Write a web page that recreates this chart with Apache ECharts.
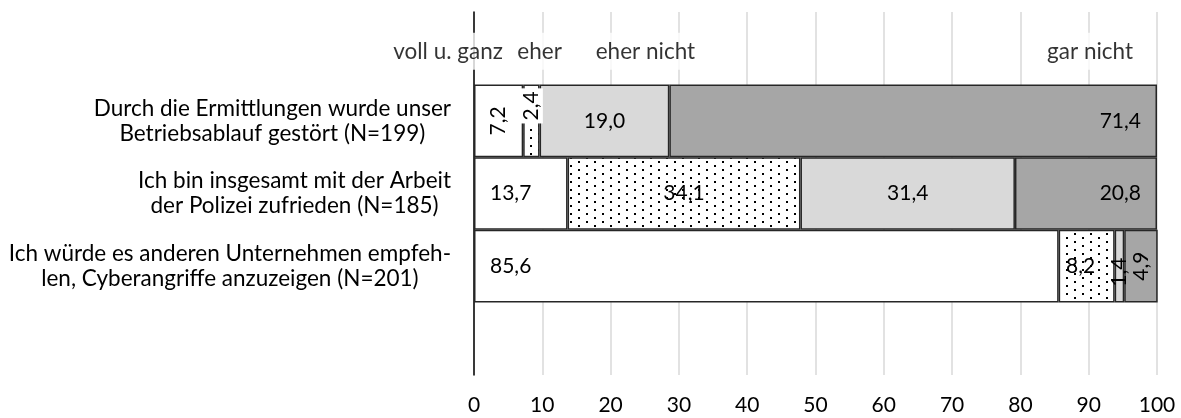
<!DOCTYPE html>
<html>
<head>
<meta charset="utf-8">
<script src="https://cdn.jsdelivr.net/npm/echarts@6/dist/echarts.min.js"></script>
<style>
  html, body { margin: 0; padding: 0; background: #fff; }
  #chart { width: 1181px; height: 418px; }
</style>
</head>
<body>
<div id="chart"></div>
<script>
// Statements (top to bottom)
const categories = [
  'Durch die Ermittlungen wurde unser\nBetriebsablauf gestört (N=199)',
  'Ich bin insgesamt mit der Arbeit\nder Polizei zufrieden (N=185)',
  'Ich würde es anderen Unternehmen empfeh-\nlen, Cyberangriffe anzuzeigen (N=201)'
];
// Answer options
const seriesNames = ['voll u. ganz', 'eher', 'eher nicht', 'gar nicht'];
// Shares in percent, one value per statement
const vollUGanz = [7.2, 13.7, 85.6];
const eher      = [2.4, 34.1, 8.2];
const eherNicht = [19.0, 31.4, 1.4];
const garNicht  = [71.4, 20.8, 4.9];
// Tick labels of the percent axis
const xTicks = [0, 10, 20, 30, 40, 50, 60, 70, 80, 90, 100];

const FONT = 'Lato';
const FS_TEXT = 22.5;   // statements and answer labels
const FS_NUM = 21;      // numbers
const TEXT = '#000';

// dotted fill
function dotPattern() {
  const c = document.createElement('canvas');
  c.width = 16; c.height = 8;
  const g = c.getContext('2d');
  g.fillStyle = '#fff';
  g.fillRect(0, 0, 16, 8);
  g.fillStyle = '#000';
  g.fillRect(2, 1, 2, 2);
  g.fillRect(10, 5, 2, 2);
  return c;
}

const fills = ['#ffffff', { image: dotPattern(), repeat: 'repeat' }, '#d9d9d9', '#a6a6a6'];
const values = [vollUGanz, eher, eherNicht, garNicht];

const fmt = v => v.toFixed(1).replace('.', ',');

// label placement for one segment
function labelFor(s, r, v) {
  const base = { show: true, formatter: fmt(v), color: TEXT, fontFamily: FONT, fontSize: FS_NUM };
  if (v < 8) {
    Object.assign(base, { position: 'inside', rotate: 90, align: 'center', verticalAlign: 'middle' });
    if (s === 1 && r === 0) {
      Object.assign(base, { backgroundColor: '#fff', padding: [2, 3, 0, 3], offset: [15, 0] });
    }
    if (s === 2 && r === 2) base.offset = [-6, 0];
    return base;
  }
  if (s === 0) return Object.assign(base, { position: 'insideLeft', distance: 16 });
  if (s === 3) return Object.assign(base, { position: 'insideRight', distance: 16 });
  if (s === 1 && r === 2) base.offset = [-6, 0];
  return Object.assign(base, { position: 'inside' });
}

// y categories: a header row for the answer labels, the statements, a spacer row
const yCats = ['head'].concat(categories, ['foot']);

const barSeries = values.map((arr, s) => ({
  name: seriesNames[s],
  type: 'bar',
  stack: 'total',
  barWidth: '100%',
  barCategoryGap: '0%',
  itemStyle: { color: fills[s], borderColor: '#262626', borderWidth: 1.5 },
  data: [null].concat(arr.map((v, r) => ({ value: v, label: labelFor(s, r, v) })), [null]),
  z: 2
}));

// answer labels in the header row
const headerX = [-3.8, 9.6, 25.1, 90.2];
const headerSeries = {
  type: 'scatter',
  symbolSize: 0,
  clip: false,
  silent: true,
  z: 5,
  data: headerX.map(x => [x, 0]),
  label: {
    show: true,
    position: 'inside',
    offset: [0, 3],
    formatter: p => seriesNames[p.dataIndex],
    color: TEXT,
    fontFamily: FONT,
    fontSize: FS_TEXT,
    backgroundColor: '#fff',
    padding: [7, 3, 7, 3]
  }
};

const chart = echarts.init(document.getElementById('chart'), null, { renderer: 'canvas' });
chart.setOption({
  animation: false,
  backgroundColor: '#fff',
  grid: { left: 474, right: 24, top: 12, bottom: 43 },
  xAxis: {
    type: 'value',
    min: xTicks[0],
    max: xTicks[xTicks.length - 1],
    interval: xTicks[1] - xTicks[0],
    axisLine: { show: false },
    axisTick: { show: false },
    splitLine: { show: true, lineStyle: { color: '#d9d9d9', width: 1.5 } },
    axisLabel: { margin: 20, color: TEXT, fontFamily: FONT, fontSize: FS_NUM }
  },
  yAxis: {
    type: 'category',
    inverse: true,
    data: yCats,
    axisLine: { show: true, lineStyle: { color: '#000', width: 1.5 } },
    axisTick: { show: false },
    splitLine: { show: false },
    axisLabel: {
      margin: 23,
      formatter: (v, i) => (i === 0 || i === yCats.length - 1) ? '' :
        v.split('\n').map(l => '{c|' + l + '}').join('\n'),
      rich: { c: { align: 'center', fontFamily: FONT, fontSize: FS_TEXT, lineHeight: 25, color: TEXT } }
    }
  },
  series: barSeries.concat([headerSeries])
});
</script>
</body>
</html>
